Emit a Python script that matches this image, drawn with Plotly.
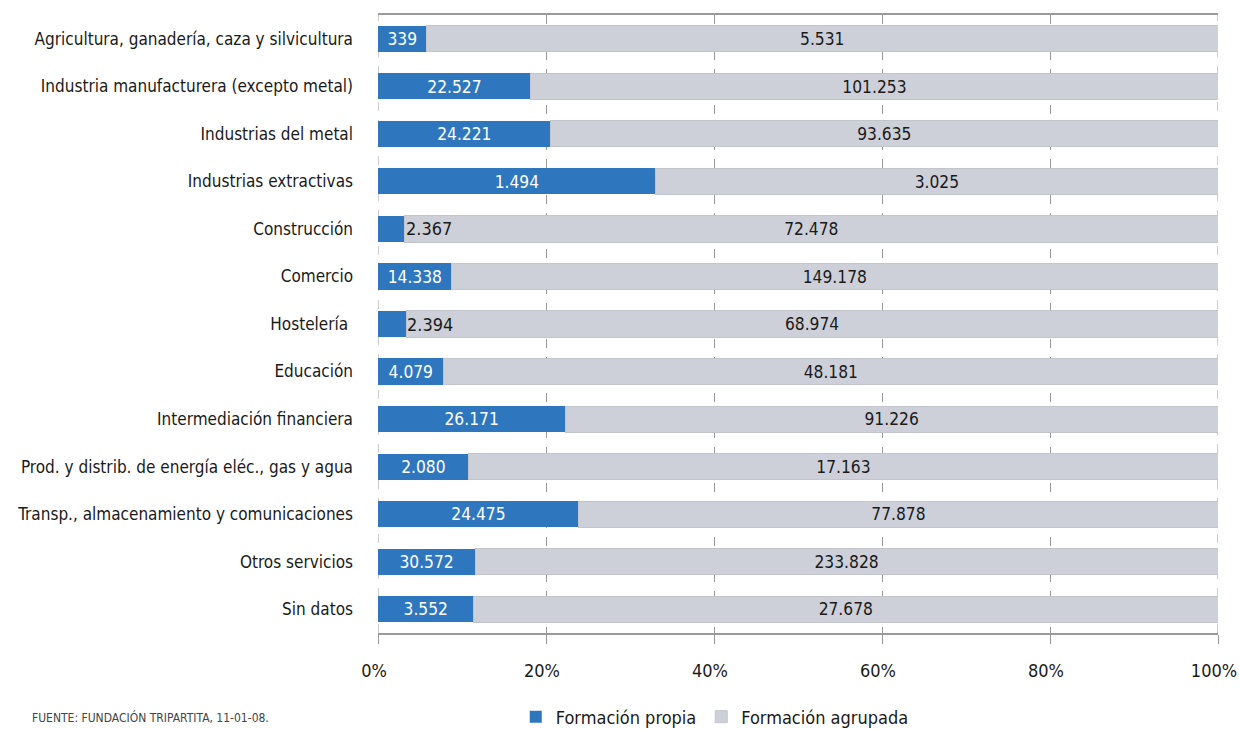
import plotly.graph_objects as go

# Sectores de actividad y participantes por tipo de formación
sectores = [
    "Agricultura, ganadería, caza y silvicultura",
    "Industria manufacturera (excepto metal)",
    "Industrias del metal",
    "Industrias extractivas",
    "Construcción",
    "Comercio",
    "Hostelería ",
    "Educación",
    "Intermediación financiera",
    "Prod. y distrib. de energía eléc., gas y agua",
    "Transp., almacenamiento y comunicaciones",
    "Otros servicios",
    "Sin datos",
]
formacion_propia = [339, 22527, 24221, 1494, 2367, 14338, 2394, 4079, 26171, 2080, 24475, 30572, 3552]
formacion_agrupada = [5531, 101253, 93635, 3025, 72478, 149178, 68974, 48181, 91226, 17163, 77878, 233828, 27678]
ticks_pct = [0, 20, 40, 60, 80, 100]

FONT = "DejaVu Sans Condensed, Liberation Sans Narrow, Arial Narrow, sans-serif"
AZUL = "#2E77BF"
GRIS = "#CDD0D8"
LINEA = "#9A9A9A"


def fmt(v):
    return f"{v:,}".replace(",", ".")


totales = [p + a for p, a in zip(formacion_propia, formacion_agrupada)]
pct_propia = [p / t * 100 for p, t in zip(formacion_propia, totales)]
pct_agrupada = [a / t * 100 for a, t in zip(formacion_agrupada, totales)]

# Etiquetas que no caben dentro de la barra azul se colocan a su derecha
estrecha = [p < 4.5 for p in pct_propia]
texto_propia = ["" if e else fmt(v) for v, e in zip(formacion_propia, estrecha)]

fig = go.Figure()
fig.add_trace(go.Bar(
    y=sectores, x=pct_propia, orientation="h", name="Formación propia",
    marker=dict(color=AZUL, line=dict(width=0)),
    text=texto_propia, textposition="inside", insidetextanchor="middle",
    textangle=0, textfont=dict(color="white", size=18, family=FONT),
    hoverinfo="skip",
))
fig.add_trace(go.Bar(
    y=sectores, x=pct_agrupada, orientation="h", name="Formación agrupada",
    marker=dict(color=GRIS, line=dict(width=1, color="#C2C5CD")),
    text=[fmt(v) for v in formacion_agrupada], textposition="inside",
    insidetextanchor="middle", textangle=0,
    textfont=dict(color="#1a1a1a", size=18, family=FONT),
    hoverinfo="skip",
))

for s, p, v, e in zip(sectores, pct_propia, formacion_propia, estrecha):
    if e:
        fig.add_annotation(x=p, y=s, text=fmt(v), showarrow=False,
                           xanchor="left", xshift=-1,
                           font=dict(color="#1a1a1a", size=18, family=FONT))

# Líneas verticales discontinuas en los extremos del eje
for xv in (ticks_pct[0], ticks_pct[-1]):
    fig.add_shape(type="line", xref="x", yref="paper", x0=xv, x1=xv, y0=0, y1=1,
                  line=dict(color=LINEA, width=1, dash="dash"), layer="below")

fig.add_annotation(x=-0.414, y=-0.136, xref="paper", yref="paper",
                   text="FUENTE: FUNDACIÓN TRIPARTITA, 11-01-08.",
                   showarrow=False, xanchor="left", yanchor="middle",
                   font=dict(size=12, color="#444444", family=FONT))

fig.update_layout(
    barmode="stack",
    bargap=0.45,
    width=1239, height=729,
    margin=dict(l=378, r=21, t=15, b=96, autoexpand=False),
    paper_bgcolor="white", plot_bgcolor="white",
    font=dict(family=FONT, size=17, color="#1a1a1a"),
    uniformtext=dict(minsize=17, mode="show"),
    showlegend=True,
    legend=dict(orientation="h", x=0.164, y=0.0165, xanchor="left",
                yref="container", yanchor="middle",
                font=dict(size=18, family=FONT),
                itemwidth=30, traceorder="normal"),
    xaxis=dict(
        range=[0, 100], tickvals=ticks_pct,
        ticktext=[f"{t}%" for t in ticks_pct],
        showgrid=True, gridcolor=LINEA, griddash="dash", gridwidth=1,
        showline=True, linecolor=LINEA, linewidth=1.5, mirror=True,
        ticks="outside", ticklen=9, tickcolor=LINEA,
        ticklabelstandoff=12, ticklabelshift=-4, ticklabeloverflow="allow",
        tickfont=dict(size=18, family=FONT), zeroline=False,
        fixedrange=True,
    ),
    yaxis=dict(
        autorange="reversed", ticks="", ticklabelstandoff=24,
        tickfont=dict(size=17, family=FONT), showline=False, fixedrange=True,
    ),
)

fig.write_html("out.html")
